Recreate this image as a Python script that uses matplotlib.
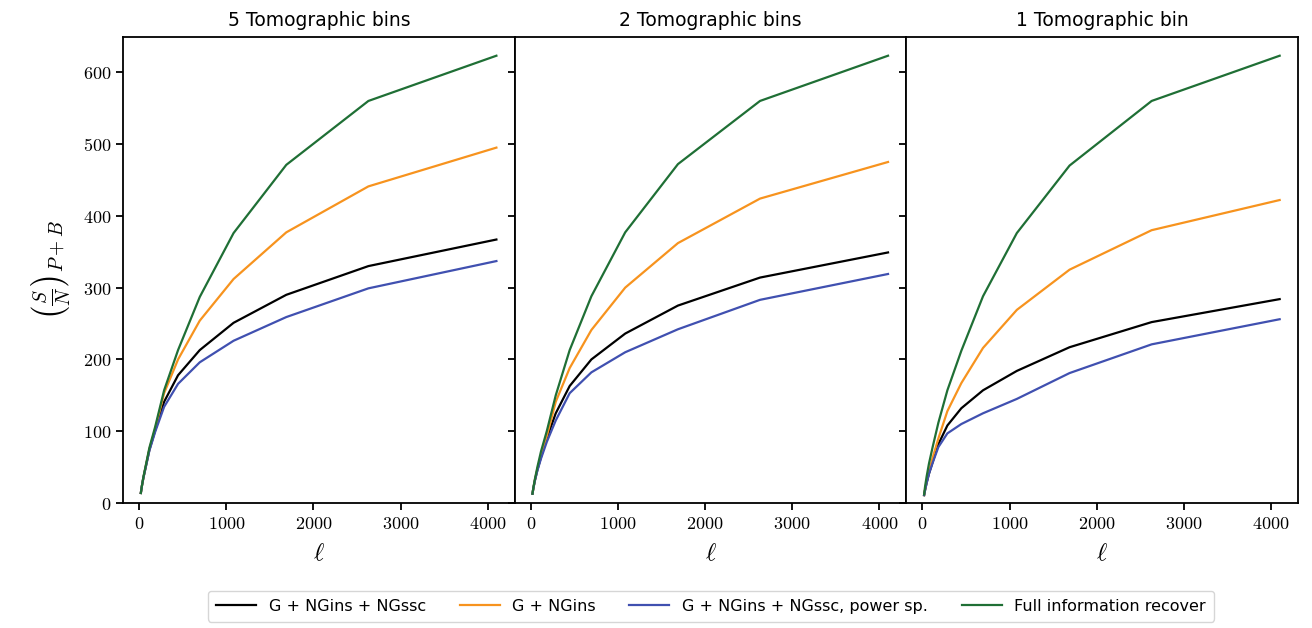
import matplotlib
matplotlib.use("Agg")
import matplotlib.pyplot as plt
from matplotlib.ticker import FuncFormatter

plt.rcParams["mathtext.fontset"] = "cm"
plt.rcParams["font.family"] = ["DejaVu Sans"]
plt.rcParams["axes.linewidth"] = 1.3

# multipoles (log-spaced bins)
ell = [20, 31, 49, 76, 118, 184, 287, 447, 696, 1084, 1689, 2631, 4100]

titles = ["5 Tomographic bins", "2 Tomographic bins", "1 Tomographic bin"]
labels = ["G + NGins + NGssc", "G + NGins", "G + NGins + NGssc, power sp.",
          "Full information recover"]
colors = ["#000000", "#f7931e", "#4050b0", "#1f6f35"]

# 5 bins
g_ngins_ngssc_5 = [14, 23, 35, 50, 74, 101, 141, 178, 213, 251, 290, 330, 367]
g_ngins_5 = [14, 23, 35, 51, 75, 103, 153, 200, 254, 312, 377, 441, 495]
power_sp_5 = [14, 23, 35, 50, 73, 99, 134, 166, 196, 226, 259, 299, 337]
full_5 = [14, 23, 36, 52, 77, 106, 157, 213, 287, 376, 471, 560, 623]

# 2 bins
g_ngins_ngssc_2 = [13, 21, 32, 46, 64, 90, 125, 163, 200, 236, 275, 314, 349]
g_ngins_2 = [13, 21, 33, 47, 66, 93, 141, 188, 241, 300, 362, 424, 475]
power_sp_2 = [13, 21, 32, 45, 62, 85, 115, 153, 182, 210, 242, 283, 319]
full_2 = [13, 22, 34, 50, 72, 100, 150, 213, 288, 377, 472, 560, 623]

# 1 bin
g_ngins_ngssc_1 = [11, 18, 28, 41, 57, 82, 108, 132, 157, 184, 217, 252, 284]
g_ngins_1 = [11, 19, 30, 44, 63, 90, 128, 167, 216, 269, 325, 380, 422]
power_sp_1 = [11, 18, 28, 41, 56, 78, 97, 110, 125, 145, 181, 221, 256]
full_1 = [12, 23, 37, 55, 78, 112, 157, 212, 288, 376, 470, 560, 623]

panels = [
    [g_ngins_ngssc_5, g_ngins_5, power_sp_5, full_5],
    [g_ngins_ngssc_2, g_ngins_2, power_sp_2, full_2],
    [g_ngins_ngssc_1, g_ngins_1, power_sp_1, full_1],
]

fig, axes = plt.subplots(1, 3, figsize=(13.12, 6.28), dpi=100, sharey=True)
fig.subplots_adjust(left=0.0938, right=0.9893, top=0.941, bottom=0.199, wspace=0)

fmt = FuncFormatter(lambda v, p: r"$%d$" % v)

for ax, series, title in zip(axes, panels, titles):
    for ys, lab, col in zip(series, labels, colors):
        ax.plot(ell, ys, color=col, lw=1.6, label=lab)
    ax.set_title(title, fontsize=13.5, pad=8)
    ax.set_xlim(-184, 4310)
    ax.set_ylim(0, 649)
    ax.set_xticks([0, 1000, 2000, 3000, 4000])
    ax.set_yticks([0, 100, 200, 300, 400, 500, 600])
    ax.xaxis.set_major_formatter(fmt)
    ax.yaxis.set_major_formatter(fmt)
    ax.tick_params(labelsize=13, length=5, width=1.3)
    ax.set_xlabel(r"$\ell$", fontsize=18, labelpad=6)

axes[0].set_ylabel(r"$\left(\frac{S}{N}\right)_{P+B}$", fontsize=20, labelpad=8)

handles, labs = axes[0].get_legend_handles_labels()
fig.legend(handles, labs, loc="center", bbox_to_anchor=(0.542, 0.035), ncol=4,
           fontsize=11.5, frameon=True, fancybox=True, edgecolor="#cccccc",
           handlelength=2.5, columnspacing=2.1, borderpad=0.5)

fig.savefig("out.png", dpi=100)
